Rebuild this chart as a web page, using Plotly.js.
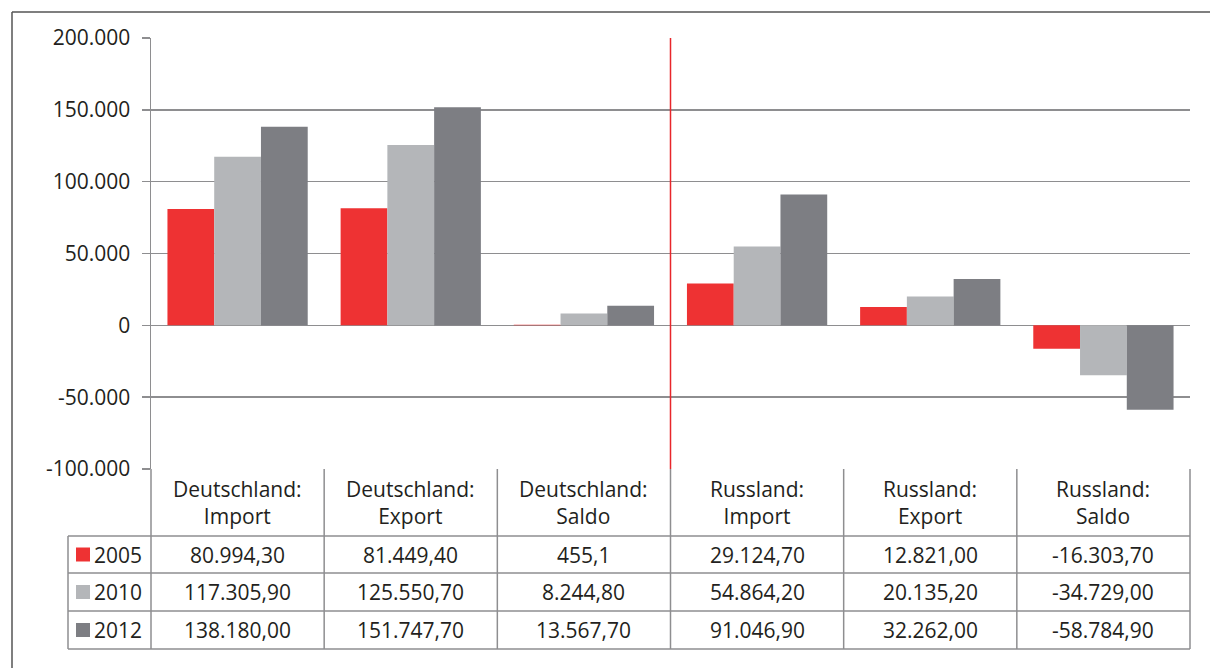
<!DOCTYPE html>
<html>
<head>
<meta charset="utf-8">
<script src="https://cdn.plot.ly/plotly-3.0.1.min.js"></script>
<style>
  body { margin: 0; background: #fff; }
  #plot { width: 1210px; height: 668px; }
</style>
</head>
<body>
<div id="plot"></div>
<script>
// categories (x) and the header text of the data table
var categories = ['DE Import', 'DE Export', 'DE Saldo', 'RU Import', 'RU Export', 'RU Saldo'];
var headerLabels = ['Deutschland:<br>Import', 'Deutschland:<br>Export', 'Deutschland:<br>Saldo',
                    'Russland:<br>Import', 'Russland:<br>Export', 'Russland:<br>Saldo'];

var years = ['2005', '2010', '2012'];
var colors = ['#ee3233', '#b4b6b9', '#7d7e83'];

// y axis ticks
var yTickVals = [-100000, -50000, 0, 50000, 100000, 150000, 200000];
var yTickText = ['-100.000', '-50.000', '0', '50.000', '100.000', '150.000', '200.000'];

// series values
var v2005 = [80994.30, 81449.40, 455.1, 29124.70, 12821.00, -16303.70];
var v2010 = [117305.90, 125550.70, 8244.80, 54864.20, 20135.20, -34729.00];
var v2012 = [138180.00, 151747.70, 13567.70, 91046.90, 32262.00, -58784.90];

// table cell text as printed
var t2005 = ['80.994,30', '81.449,40', '455,1', '29.124,70', '12.821,00', '-16.303,70'];
var t2010 = ['117.305,90', '125.550,70', '8.244,80', '54.864,20', '20.135,20', '-34.729,00'];
var t2012 = ['138.180,00', '151.747,70', '13.567,70', '91.046,90', '32.262,00', '-58.784,90'];

var series = [v2005, v2010, v2012];
var tableText = [t2005, t2010, t2012];

var FONT = 'Open Sans, Noto Sans, sans-serif';
var FS = 21;
var W = 1210, H = 668, L = 151, R = 20, T = 38, B = 199;
var plotW = W - L - R, plotH = H - T - B;
function px(x) { return (x - L) / plotW; }
function py(y) { return (H - B - y) / plotH; }

var data = years.map(function (yr, i) {
  return {
    x: categories,
    y: series[i],
    name: yr,
    type: 'bar',
    marker: { color: colors[i] },
    hoverinfo: 'y'
  };
});

// table geometry (pixels)
var tableTop = 469, rowLines = [536, 573, 611, 649], legendLeft = 68;
var gridColor = '#8e8e90';

var shapes = [];
// frame around the figure
shapes.push({ type: 'line', xref: 'paper', yref: 'paper', x0: px(12), x1: px(1215), y0: py(12), y1: py(12),
  line: { color: '#555', width: 1.5 } });
shapes.push({ type: 'line', xref: 'paper', yref: 'paper', x0: px(12), x1: px(12), y0: py(12), y1: py(700),
  line: { color: '#555', width: 1.5 } });
// red divider between Deutschland and Russland
shapes.push({ type: 'line', xref: 'paper', yref: 'paper', x0: 0.5, x1: 0.5, y0: 0, y1: 1,
  line: { color: '#e8262b', width: 1.5 } });
// table verticals
for (var c = 0; c <= categories.length; c++) {
  shapes.push({ type: 'line', xref: 'paper', yref: 'paper', x0: c / categories.length, x1: c / categories.length,
    y0: py(tableTop), y1: py(rowLines[3]), line: { color: gridColor, width: 1.5 } });
}
shapes.push({ type: 'line', xref: 'paper', yref: 'paper', x0: px(legendLeft), x1: px(legendLeft),
  y0: py(rowLines[0]), y1: py(rowLines[3]), line: { color: gridColor, width: 1.5 } });
// table horizontals
rowLines.forEach(function (ry) {
  shapes.push({ type: 'line', xref: 'paper', yref: 'paper', x0: px(legendLeft), x1: 1, y0: py(ry), y1: py(ry),
    line: { color: gridColor, width: 1.5 } });
});

var annotations = [];
// header row
headerLabels.forEach(function (lab, i) {
  annotations.push({ xref: 'paper', yref: 'paper', x: (i + 0.5) / categories.length, y: py((tableTop + rowLines[0]) / 2),
    text: lab, showarrow: false, xanchor: 'center', yanchor: 'middle',
    font: { family: FONT, size: FS, color: '#231f20' } });
});
// data rows with legend keys
years.forEach(function (yr, r) {
  var cy = (rowLines[r] + rowLines[r + 1]) / 2;
  shapes.push({ type: 'rect', xref: 'paper', yref: 'paper', x0: px(76), x1: px(90), y0: py(cy - 7), y1: py(cy + 7),
    fillcolor: colors[r], line: { width: 0 } });
  annotations.push({ xref: 'paper', yref: 'paper', x: px(92), y: py(cy), text: yr, showarrow: false,
    xanchor: 'left', yanchor: 'middle', font: { family: FONT, size: FS, color: '#231f20' } });
  tableText[r].forEach(function (t, i) {
    annotations.push({ xref: 'paper', yref: 'paper', x: (i + 0.5) / categories.length, y: py(cy), text: t,
      showarrow: false, xanchor: 'center', yanchor: 'middle',
      font: { family: FONT, size: FS, color: '#231f20' } });
  });
});

var layout = {
  width: W,
  height: H,
  margin: { l: L, r: R, t: T, b: B },
  paper_bgcolor: '#fff',
  plot_bgcolor: '#fff',
  barmode: 'group',
  bargap: 0.19,
  bargroupgap: 0,
  showlegend: false,
  font: { family: FONT, color: '#231f20' },
  xaxis: {
    range: [-0.5, 5.5],
    showticklabels: false,
    showgrid: false,
    zeroline: false,
    fixedrange: true
  },
  yaxis: {
    range: [-100000, 200000],
    tickmode: 'array',
    tickvals: yTickVals,
    ticktext: yTickText,
    ticks: 'outside',
    ticklen: 8,
    tickcolor: gridColor,
    tickwidth: 1.5,
    ticklabelstandoff: 7,
    showgrid: true,
    gridcolor: gridColor,
    gridwidth: 1.5,
    zeroline: true,
    zerolinecolor: gridColor,
    zerolinewidth: 1.5,
    showline: true,
    linecolor: gridColor,
    linewidth: 1.5,
    tickfont: { family: FONT, size: FS, color: '#231f20' },
    fixedrange: true
  },
  shapes: shapes,
  annotations: annotations
};

Plotly.newPlot('plot', data, layout, { displayModeBar: false, staticPlot: true });
</script>
</body>
</html>
